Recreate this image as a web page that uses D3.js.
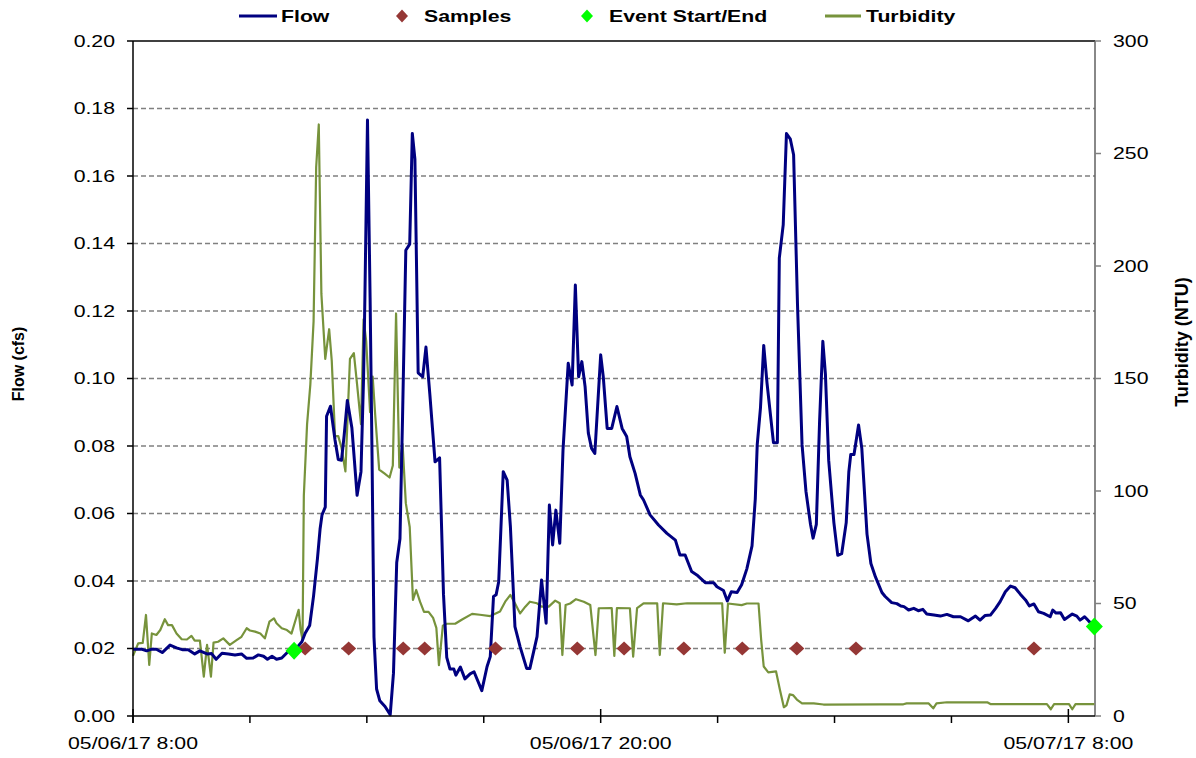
<!DOCTYPE html>
<html>
<head>
<meta charset="utf-8">
<script src="https://cdn.jsdelivr.net/npm/d3@7"></script>
<style>
  html, body { margin: 0; padding: 0; background: #fff; }
  svg { display: block; font-family: "Liberation Sans", Arial, sans-serif; }
</style>
</head>
<body>
<svg id="chart" width="1196" height="758"></svg>
<script>
// Storm event record, 05/06/17 08:00 onward. Times are minutes after the start.
const startTime = new Date(2017, 4, 6, 8, 0);
const endMinute = 1481;

const flowMinutes = [
  0, 13, 21, 29, 36, 45, 57, 67, 77, 85, 95, 103, 114, 121, 128, 137, 147, 157, 167, 175,
  185, 193, 201, 207, 214, 221, 229, 239, 248, 260, 265, 272, 278, 284, 288, 291, 296, 298, 304, 311,
  316, 321, 325, 330, 337, 345, 351, 355, 357, 361, 365, 368, 371, 375, 380, 388, 396, 401, 406, 411,
  415, 420, 426, 430, 434, 439, 446, 451, 457, 465, 472, 478, 483, 488, 494, 497, 504, 511, 519, 525,
  537, 545, 550, 555, 559, 563, 570, 576, 581, 588, 596, 606, 611, 622, 629, 636, 641, 646, 651, 657,
  662, 670, 676, 681, 686, 691, 696, 701, 706, 711, 720, 724, 730, 737, 745, 753, 760, 765, 773, 781,
  786, 796, 809, 822, 835, 842, 850, 860, 868, 881, 894, 899, 909, 915, 921, 930, 937, 945, 953, 958,
  961, 966, 971, 976, 986, 992, 995, 1001, 1006, 1012, 1017, 1023, 1030, 1036, 1043, 1047, 1052, 1057, 1062, 1066,
  1071, 1079, 1085, 1091, 1098, 1102, 1105, 1110, 1117, 1122, 1130, 1136, 1143, 1153, 1158, 1168, 1176, 1182, 1187, 1194,
  1202, 1209, 1216, 1222, 1233, 1243, 1253, 1263, 1274, 1286, 1297, 1304, 1312, 1320, 1328, 1335, 1343, 1351, 1358, 1366,
  1374, 1380, 1387, 1394, 1402, 1412, 1416, 1421, 1428, 1434, 1446, 1453, 1458, 1465, 1471, 1480
];
const flowCfs = [
  0.0198, 0.0198, 0.0193, 0.0198, 0.0198, 0.0188, 0.0210, 0.0202, 0.0196, 0.0196, 0.0184, 0.0193, 0.0184, 0.0185, 0.0168, 0.0186, 0.0184, 0.0181, 0.0184, 0.0171,
  0.0172, 0.0181, 0.0177, 0.0168, 0.0177, 0.0168, 0.0172, 0.0191, 0.0193, 0.0220, 0.0245, 0.0268, 0.0356, 0.0467, 0.0554, 0.0596, 0.0619, 0.0888, 0.0918, 0.0818,
  0.0760, 0.0758, 0.0830, 0.0935, 0.0853, 0.0654, 0.0724, 0.1005, 0.1240, 0.1766, 0.1240, 0.0771, 0.0233, 0.0080, 0.0045, 0.0028, 0.0004, 0.0127, 0.0455, 0.0525,
  0.0888, 0.1380, 0.1398, 0.1726, 0.1650, 0.1017, 0.1005, 0.1093, 0.0953, 0.0753, 0.0765, 0.0361, 0.0174, 0.0139, 0.0139, 0.0121, 0.0145, 0.0110, 0.0125, 0.0131,
  0.0075, 0.0146, 0.0176, 0.0354, 0.0359, 0.0398, 0.0724, 0.0699, 0.0561, 0.0265, 0.0205, 0.0141, 0.0141, 0.0235, 0.0403, 0.0275, 0.0625, 0.0507, 0.0610, 0.0512,
  0.0788, 0.1045, 0.0981, 0.1277, 0.1005, 0.1050, 0.0976, 0.0838, 0.0793, 0.0778, 0.1070, 0.1005, 0.0852, 0.0852, 0.0917, 0.0852, 0.0828, 0.0768, 0.0719, 0.0655,
  0.0640, 0.0596, 0.0566, 0.0541, 0.0521, 0.0477, 0.0477, 0.0428, 0.0418, 0.0395, 0.0395, 0.0383, 0.0372, 0.0341, 0.0368, 0.0366, 0.0389, 0.0436, 0.0504, 0.0643,
  0.0804, 0.0913, 0.1098, 0.0988, 0.0810, 0.0810, 0.1357, 0.1455, 0.1726, 0.1709, 0.1663, 0.1219, 0.0804, 0.0666, 0.0568, 0.0527, 0.0568, 0.0873, 0.1110, 0.1012,
  0.0758, 0.0573, 0.0476, 0.0481, 0.0573, 0.0723, 0.0775, 0.0775, 0.0862, 0.0793, 0.0539, 0.0452, 0.0412, 0.0366, 0.0354, 0.0336, 0.0333, 0.0326, 0.0324, 0.0314,
  0.0319, 0.0312, 0.0316, 0.0302, 0.0299, 0.0296, 0.0301, 0.0294, 0.0294, 0.0282, 0.0296, 0.0284, 0.0298, 0.0299, 0.0319, 0.0339, 0.0368, 0.0385, 0.0380, 0.0361,
  0.0344, 0.0326, 0.0332, 0.0309, 0.0304, 0.0294, 0.0314, 0.0305, 0.0306, 0.0286, 0.0302, 0.0296, 0.0284, 0.0294, 0.0282, 0.0265
];

const turbMinutes = [
  0, 8, 15, 20, 25, 29, 36, 42, 49, 54, 60, 67, 75, 83, 90, 95, 103, 109, 114, 120,
  124, 131, 139, 149, 160, 167, 175, 180, 188, 196, 203, 210, 217, 221, 229, 237, 244, 255, 258, 261,
  263, 268, 273, 278, 282, 286, 290, 296, 302, 306, 311, 316, 321, 327, 334, 340, 345, 351, 355, 359,
  365, 369, 373, 379, 387, 395, 400, 405, 410, 415, 420, 426, 431, 436, 442, 448, 455, 462, 467, 471,
  477, 483, 496, 506, 522, 534, 550, 565, 573, 581, 588, 596, 604, 611, 622, 629, 640, 650, 657, 661,
  666, 673, 682, 694, 704, 712, 717, 737, 741, 745, 765, 770, 776, 786, 807, 811, 816, 837, 853, 907,
  911, 916, 937, 945, 963, 967, 971, 978, 990, 996, 1002, 1006, 1011, 1016, 1022, 1030, 1048, 1063, 1150, 1186,
  1191, 1225, 1232, 1237, 1253, 1315, 1320, 1407, 1413, 1418, 1441, 1446, 1451, 1480
];
const turbNtu = [
  26.7, 32.3, 32.5, 44.9, 22.7, 36.7, 36.0, 38.2, 43.0, 40.4, 40.4, 36.7, 34.1, 34.0, 35.6, 33.5, 33.5, 17.5, 31.6, 17.5,
  32.6, 33.0, 34.5, 31.6, 33.8, 35.2, 39.0, 38.0, 37.5, 36.7, 34.5, 41.9, 43.4, 41.2, 39.0, 38.2, 36.6, 47.2, 38.4, 34.0,
  98.0, 129.7, 147.3, 175.4, 243.9, 262.9, 187.7, 158.7, 171.9, 157.8, 124.4, 124.4, 119.2, 108.7, 158.7, 161.3, 147.3, 129.7, 176.3, 166.6,
  135.0, 150.8, 133.2, 109.5, 107.8, 106.0, 111.3, 178.9, 110.4, 120.9, 94.6, 84.0, 51.6, 56.0, 50.7, 46.3, 46.3, 43.6, 39.2, 22.6,
  40.1, 41.0, 41.0, 42.8, 45.4, 45.0, 44.4, 46.4, 50.8, 53.8, 50.1, 45.6, 48.6, 50.8, 50.1, 48.6, 48.6, 51.3, 50.1, 27.1,
  49.3, 50.0, 51.9, 50.8, 49.3, 27.1, 47.9, 48.0, 26.7, 48.0, 47.9, 26.4, 47.9, 50.1, 50.1, 27.1, 50.1, 49.6, 50.1, 50.1,
  28.1, 50.0, 49.3, 50.0, 50.0, 34.1, 22.0, 19.4, 19.8, 11.6, 3.9, 4.7, 9.6, 9.3, 7.3, 5.6, 5.6, 5.1, 5.2, 5.2,
  5.6, 5.6, 3.4, 5.6, 6.1, 6.1, 5.3, 5.3, 3.0, 5.3, 5.3, 3.0, 5.3, 5.3
];

const sampleMinutes = [265, 332, 416, 449, 558, 684, 756, 848, 938, 1022, 1113, 1387];
const sampleCfs = [0.02, 0.02, 0.02, 0.02, 0.02, 0.02, 0.02, 0.02, 0.02, 0.02, 0.02, 0.02];

const eventMinutes = [248, 1480];
const eventCfs = [0.0193, 0.0265];

const flowTicks = [0, 0.02, 0.04, 0.06, 0.08, 0.10, 0.12, 0.14, 0.16, 0.18, 0.20];
const turbTicks = [0, 50, 100, 150, 200, 250, 300];
const timeTickHours = [0, 3, 6, 9, 12, 15, 18, 21, 24];

const legendItems = ["Flow", "Samples", "Event Start/End", "Turbidity"];

const colors = {
  flow: "#000080",
  turb: "#77933C",
  sample: "#953735",
  event: "#00FF00",
  grid: "#808080"
};

// Horizontal text is drawn slightly widened.
const TX = 1.25;

const toDate = m => new Date(startTime.getTime() + m * 60000);
const zip = (a, b) => a.map((m, i) => ({ t: toDate(m), v: b[i] }));

const flow = zip(flowMinutes, flowCfs);
const turb = zip(turbMinutes, turbNtu);
const samples = zip(sampleMinutes, sampleCfs);
const events = zip(eventMinutes, eventCfs);

const plotL = 133, plotR = 1095, plotT = 41, plotB = 716;

const x = d3.scaleTime().domain([startTime, toDate(endMinute)]).range([plotL, plotR]);
const yFlow = d3.scaleLinear().domain([0, 0.2]).range([plotB, plotT]);
const yTurb = d3.scaleLinear().domain([0, 300]).range([plotB, plotT]);

const svg = d3.select("#chart");

function stretchedText(g, px, py, str, anchor, opts = {}) {
  return g.append("text")
    .attr("transform", `translate(${px},${py}) scale(${TX},1)`)
    .attr("text-anchor", anchor)
    .attr("dominant-baseline", "central")
    .attr("font-size", opts.size || 17)
    .attr("font-weight", opts.weight || "normal")
    .attr("fill", "#000")
    .text(str);
}

// Horizontal gridlines on the flow axis
svg.append("g")
  .selectAll("line")
  .data(flowTicks.filter(v => v > 0 && v < 0.2))
  .join("line")
  .attr("x1", plotL).attr("x2", plotR)
  .attr("y1", d => yFlow(d)).attr("y2", d => yFlow(d))
  .attr("stroke", colors.grid)
  .attr("stroke-width", 1.4)
  .attr("stroke-dasharray", "5,3");

// Plot frame: top edge and right axis line
svg.append("line")
  .attr("x1", plotL).attr("x2", plotR)
  .attr("y1", yFlow(0.2)).attr("y2", yFlow(0.2))
  .attr("stroke", "#000").attr("stroke-width", 1.5);
svg.append("line")
  .attr("x1", plotR).attr("x2", plotR)
  .attr("y1", plotT).attr("y2", plotB)
  .attr("stroke", "#606060").attr("stroke-width", 1.5);

// Turbidity series
svg.append("path")
  .datum(turb)
  .attr("fill", "none")
  .attr("stroke", colors.turb)
  .attr("stroke-width", 2.2)
  .attr("stroke-linejoin", "round")
  .attr("d", d3.line().x(d => x(d.t)).y(d => yTurb(d.v)));

// Flow series
svg.append("path")
  .datum(flow)
  .attr("fill", "none")
  .attr("stroke", colors.flow)
  .attr("stroke-width", 3)
  .attr("stroke-linejoin", "round")
  .attr("d", d3.line().x(d => x(d.t)).y(d => yFlow(d.v)));

const diamond = (w, h) => `M0,${-h}L${w},0L0,${h}L${-w},0Z`;

// Sample markers
svg.append("g")
  .selectAll("path")
  .data(samples)
  .join("path")
  .attr("transform", d => `translate(${x(d.t)},${yFlow(d.v)})`)
  .attr("d", diamond(7.5, 7))
  .attr("fill", colors.sample);

// Event start / end markers
svg.append("g")
  .selectAll("path")
  .data(events)
  .join("path")
  .attr("transform", d => `translate(${x(d.t)},${yFlow(d.v)})`)
  .attr("d", diamond(8.5, 9))
  .attr("fill", colors.event);

// Left axis
const gl = svg.append("g");
gl.append("line")
  .attr("x1", plotL).attr("x2", plotL)
  .attr("y1", plotT).attr("y2", plotB + 7)
  .attr("stroke", "#000").attr("stroke-width", 1.5);
flowTicks.forEach(v => {
  gl.append("line")
    .attr("x1", plotL - 6).attr("x2", plotL)
    .attr("y1", yFlow(v)).attr("y2", yFlow(v))
    .attr("stroke", "#000").attr("stroke-width", 1.5);
  stretchedText(gl, plotL - 18, yFlow(v), d3.format(".2f")(v), "end");
});

// Right axis
const gr = svg.append("g");
turbTicks.forEach(v => {
  gr.append("line")
    .attr("x1", plotR).attr("x2", plotR + 6)
    .attr("y1", yTurb(v)).attr("y2", yTurb(v))
    .attr("stroke", "#808080").attr("stroke-width", 1.5);
  stretchedText(gr, plotR + 18, yTurb(v), String(v), "start");
});

// Bottom time axis: ticks every 3 hours from 08:00, labels every 12 hours
const gb = svg.append("g");
gb.append("line")
  .attr("x1", plotL).attr("x2", plotR)
  .attr("y1", plotB).attr("y2", plotB)
  .attr("stroke", "#000").attr("stroke-width", 1.5);
const fmt = d3.timeFormat("%m/%d/%y %-H:%M");
timeTickHours.forEach(h => {
  const t = d3.timeHour.offset(startTime, h);
  const major = h % 12 === 0;
  gb.append("line")
    .attr("x1", x(t)).attr("x2", x(t))
    .attr("y1", major ? plotB - 7 : plotB).attr("y2", plotB + 7)
    .attr("stroke", "#000").attr("stroke-width", 1.5);
  if (major) stretchedText(gb, x(t), 743, fmt(t), "middle");
});

// Axis titles
svg.append("text")
  .attr("transform", `translate(18,364) rotate(-90)`)
  .attr("text-anchor", "middle")
  .attr("dominant-baseline", "central")
  .attr("font-size", 16).attr("font-weight", "bold")
  .text("Flow (cfs)");
svg.append("text")
  .attr("transform", `translate(1182,342) rotate(-90)`)
  .attr("text-anchor", "middle")
  .attr("dominant-baseline", "central")
  .attr("font-size", 18).attr("font-weight", "bold")
  .text("Turbidity (NTU)");

// Legend
const lg = svg.append("g");
const ly = 16;
lg.append("line").attr("x1", 239).attr("x2", 277).attr("y1", ly).attr("y2", ly)
  .attr("stroke", colors.flow).attr("stroke-width", 3);
stretchedText(lg, 281, ly, legendItems[0], "start", { weight: "bold", size: 17 });
lg.append("path").attr("transform", `translate(402,${ly})`).attr("d", diamond(6, 6.5)).attr("fill", colors.sample);
stretchedText(lg, 424, ly, legendItems[1], "start", { weight: "bold", size: 17 });
lg.append("path").attr("transform", `translate(587,${ly})`).attr("d", diamond(6, 6.5)).attr("fill", colors.event);
stretchedText(lg, 609, ly, legendItems[2], "start", { weight: "bold", size: 17 });
lg.append("line").attr("x1", 825).attr("x2", 861).attr("y1", ly).attr("y2", ly)
  .attr("stroke", colors.turb).attr("stroke-width", 3);
stretchedText(lg, 866, ly, legendItems[3], "start", { weight: "bold", size: 17 });
</script>
</body>
</html>
